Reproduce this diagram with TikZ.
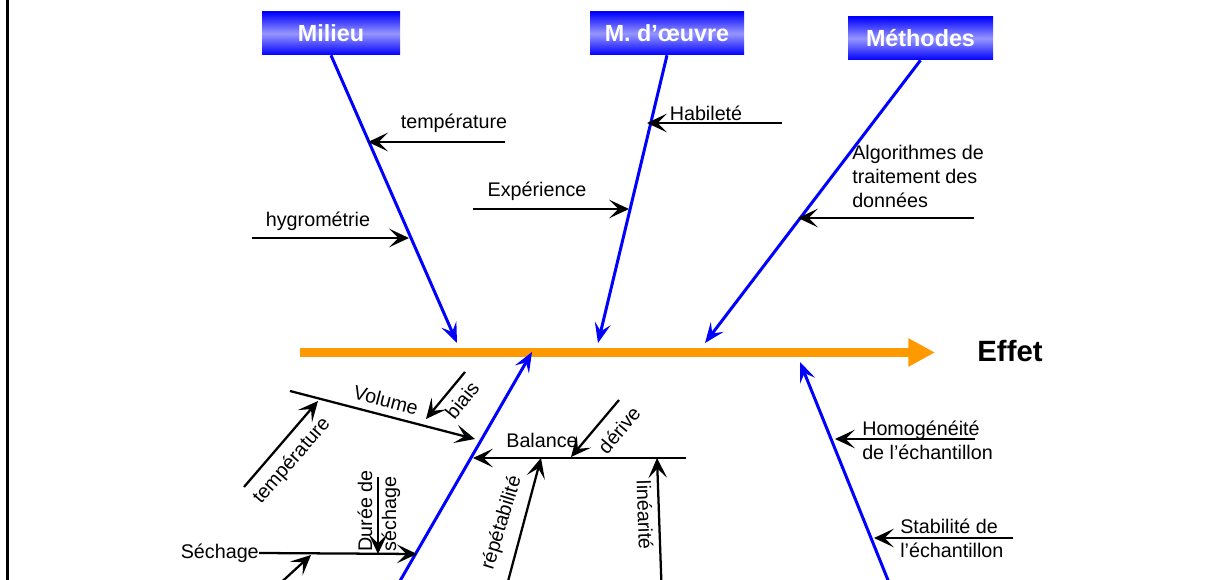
\documentclass[tikz,border=0pt]{standalone}
\usepackage{fontspec}
\setmainfont{Liberation Sans}
\usetikzlibrary{arrows.meta}

\definecolor{spinecol}{RGB}{255,153,0}
\definecolor{boxlight}{RGB}{150,150,255}

\tikzset{
  catbox/.style={top color=blue, bottom color=blue, middle color=boxlight, text=white,
    font=\fontsize{17.5}{20}\selectfont\bfseries, minimum height=32.25pt, inner sep=0pt},
  cause/.style={blue, line width=2.25pt, -{Stealth[length=15pt,width=12pt,inset=6pt]}},
  factor/.style={black, line width=1.7pt, -{Stealth[length=15pt,width=14pt,inset=7pt]}},
  lbl/.style={font=\fontsize{14.8}{18}\selectfont, inner sep=0pt},
}

\begin{document}
\begin{tikzpicture}[x=0.75pt, y=-0.75pt]
    \useasboundingbox (0,0) rectangle (1218,580);
    \clip (0,0) rectangle (1218,580);
    % frame
    \draw [line width=2.25pt] (7.5,0) -- (7.5,580);
    % spine
    \coordinate (sp0) at (300,352.5);
    \coordinate (sp1) at (935,352.5);
    \draw [spinecol, line width=6.75pt, -{Triangle[length=20pt,width=20pt]}] (sp0) -- (sp1);
    \node [font=\fontsize{22}{26}\selectfont\bfseries] (effet) at (1010,351) {Effet};
    % Milieu
    \node [catbox, minimum width=103.5pt] (milieu) at (331,33.5) {Milieu};
    \coordinate (milieutip) at (457,343);
    \draw [cause] (milieu.south) -- (milieutip);
    \coordinate (tempA) at (505,142);
    \coordinate (tempB) at (368,142);
    \draw [factor] (tempA) -- (tempB);
    \node [lbl] (temp) at (454,123) {température};
    \coordinate (hygA) at (252,238);
    \coordinate (hygB) at (409,238);
    \draw [factor] (hygA) -- (hygB);
    \node [lbl] (hyg) at (318,221) {hygrométrie};
    % M. d'oeuvre
    \node [catbox, minimum width=115.5pt] (mo) at (667,33.5) {M. d’œuvre};
    \coordinate (motip) at (598,343);
    \draw [cause] (mo.south) -- (motip);
    \coordinate (habA) at (782,123);
    \coordinate (habB) at (647,123);
    \draw [factor] (habA) -- (habB);
    \node [lbl] (hab) at (706,113) {Habileté};
    \coordinate (expA) at (473,209);
    \coordinate (expB) at (629,209);
    \draw [factor] (expA) -- (expB);
    \node [lbl] (exp) at (537,191) {Expérience};
    % Methodes
    \node [catbox, minimum width=108.75pt] (meth) at (920.5,38.5) {Méthodes};
    \coordinate (methtip) at (705,343);
    \draw [cause] (meth.south) -- (methtip);
    \coordinate (algA) at (974,218);
    \coordinate (algB) at (798,218);
    \draw [factor] (algA) -- (algB);
    \node [lbl, anchor=west, align=left] (alg) at (852,176) {Algorithmes de\\traitement des\\données};
    % bottom left branch
    \coordinate (bltail) at (389,600);
    \coordinate (bltip) at (532,352);
    \draw [cause] (bltail) -- (bltip);
    \coordinate (volA) at (290,391);
    \coordinate (volB) at (475,439);
    \draw [factor] (volA) -- (volB);
    \node [lbl, rotate=-14.5] (vol) at (386,400) {Volume};
    \coordinate (vtA) at (244,487);
    \coordinate (vtB) at (318,401);
    \draw [factor] (vtA) -- (vtB);
    \node [lbl, rotate=49] (vt) at (292,461) {température};
    \coordinate (biaA) at (465,372);
    \coordinate (biaB) at (426,419);
    \draw [factor] (biaA) -- (biaB);
    \node [lbl, rotate=51] (bia) at (462,400) {biais};
    \node [lbl, anchor=east] (sech) at (259,553) {Séchage};
    \coordinate (sechB) at (417,554);
    \draw [factor] (sech.east) -- (sechB);
    \coordinate (dsA) at (378,477);
    \coordinate (dsB) at (378,554);
    \draw [factor] (dsA) -- (dsB);
    \node [lbl, rotate=90, align=left] (ds) at (379,511) {Durée de\\séchage};
    \coordinate (sxA) at (262,600);
    \coordinate (sxB) at (311,555);
    \draw [factor] (sxA) -- (sxB);
    % Balance
    \coordinate (balA) at (686,458);
    \coordinate (balB) at (473,458);
    \draw [factor] (balA) -- (balB);
    \node [lbl] (bal) at (542,440) {Balance};
    \coordinate (derA) at (619,400);
    \coordinate (derB) at (571,457);
    \draw [factor] (derA) -- (derB);
    \node [lbl, rotate=50] (der) at (619,430) {dérive};
    \coordinate (repA) at (503,600);
    \coordinate (repB) at (541,458);
    \draw [factor] (repA) -- (repB);
    \node [lbl, rotate=73] (rep) at (502,523) {répétabilité};
    \coordinate (linA) at (662,600);
    \coordinate (linB) at (657,458);
    \draw [factor] (linA) -- (linB);
    \node [lbl, rotate=-88] (lin) at (645,515) {linéarité};
    % bottom right branch
    \coordinate (brtail) at (896,600);
    \coordinate (brtip) at (800,362);
    \draw [cause] (brtail) -- (brtip);
    \coordinate (homA) at (975,439);
    \coordinate (homB) at (835,439);
    \draw [factor] (homA) -- (homB);
    \node [lbl, anchor=west, align=left] (hom) at (862,440.5) {Homogénéité\\de l’échantillon};
    \coordinate (staA) at (1013,538);
    \coordinate (staB) at (874,538);
    \draw [factor] (staA) -- (staB);
    \node [lbl, anchor=west, align=left] (sta) at (900,538.5) {Stabilité de\\l’échantillon};
\end{tikzpicture}
\end{document}
